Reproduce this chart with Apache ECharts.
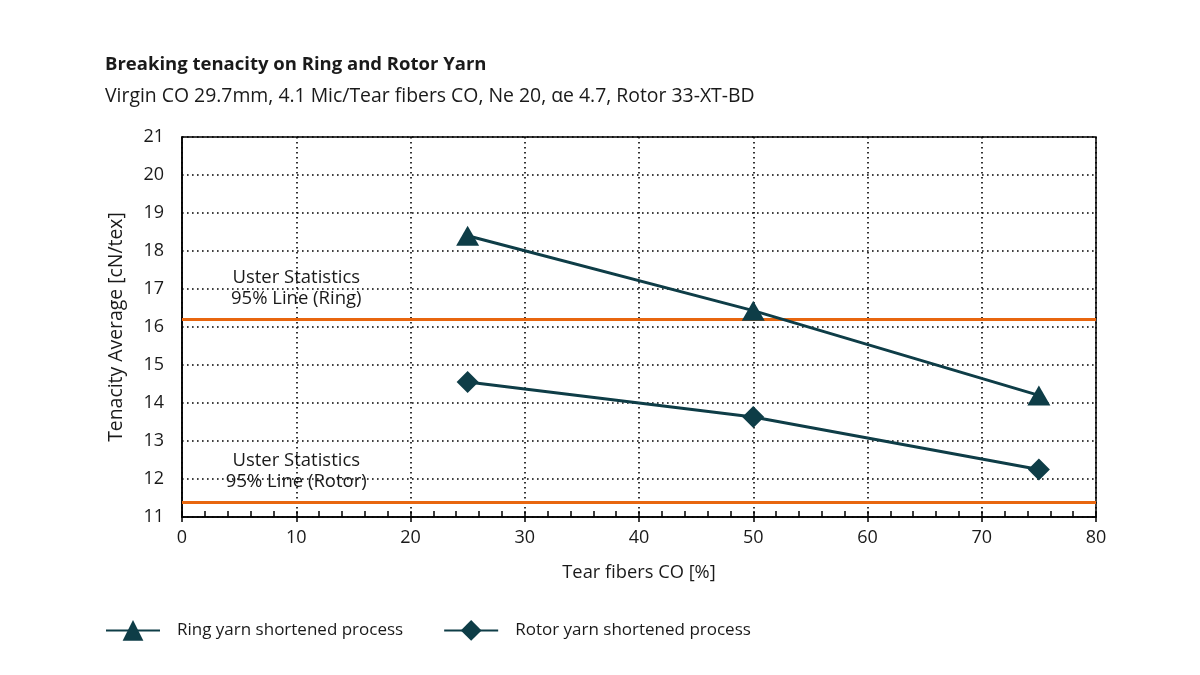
<!DOCTYPE html>
<html>
<head>
<meta charset="utf-8">
<script src="https://cdn.jsdelivr.net/npm/echarts@6/dist/echarts.min.js"></script>
<style>html,body{margin:0;padding:0;background:#fff}#c{width:1200px;height:675px}</style>
</head>
<body>
<div id="c"></div>
<script>
const titleText = 'Breaking tenacity on Ring and Rotor Yarn';
const subtitleText = 'Virgin CO 29.7mm, 4.1 Mic/Tear fibers CO, Ne 20, \u03b1e 4.7, Rotor 33-XT-BD';
const tearFibers = [25, 50, 75];
const ringValues = [18.4, 16.43, 14.2];
const rotorValues = [14.55, 13.63, 12.25];
const usterRing = 16.2;
const usterRotor = 11.4;
const usterRingLabel = 'Uster Statistics\n95% Line (Ring)';
const usterRotorLabel = 'Uster Statistics\n95% Line (Rotor)';
const usterLabelX = 10;
const seriesNames = ['Ring yarn shortened process', 'Rotor yarn shortened process'];

const FONT = 'Open Sans';
const DARK = '#0e3d47';
const ORANGE = '#e8660f';
const TXT = '#1a1a1a';

const chart = echarts.init(document.getElementById('c'), null, {renderer: 'canvas'});
const dotted = {type: [1.6, 3.4], color: '#000', width: 1.6};
const labelStyle = {fontFamily: FONT, fontSize: 18.5, color: TXT, lineHeight: 21};

chart.setOption({
  backgroundColor: '#fff',
  animation: false,
  title: {
    text: titleText,
    subtext: subtitleText,
    left: 100,
    top: 50,
    itemGap: 13,
    textStyle: {fontFamily: FONT, fontSize: 18.5, fontWeight: 'bold', color: TXT},
    subtextStyle: {fontFamily: FONT, fontSize: 19.4, color: TXT}
  },
  grid: {left: 182, right: 104, top: 137, bottom: 158, show: true, borderColor: '#000', borderWidth: 1.5, backgroundColor: 'transparent'},
  legend: {
    left: 100, top: 615,
    itemWidth: 54, itemHeight: 26, itemGap: 40,
    textStyle: {fontFamily: FONT, fontSize: 17, color: TXT, padding: [0, 0, 0, 12]},
    data: seriesNames
  },
  xAxis: [{
    type: 'value', min: 0, max: 80, interval: 10,
    name: 'Tear fibers CO [%]', nameLocation: 'middle', nameGap: 47,
    nameTextStyle: {fontFamily: FONT, fontSize: 18.3, color: TXT},
    axisLine: {show: true, lineStyle: {color: '#000', width: 1.5}},
    axisTick: {show: true, length: 5, lineStyle: {color: '#000', width: 1.5}},
    axisLabel: {fontFamily: FONT, fontSize: 18, color: TXT, margin: 12},
    splitLine: {show: true, lineStyle: dotted}
  }, {
    type: 'value', min: 0, max: 80, interval: 2, position: 'bottom',
    axisLine: {show: false},
    axisTick: {show: true, inside: true, length: 6, lineStyle: {color: '#000', width: 1.5}},
    axisLabel: {show: false},
    splitLine: {show: false}
  }],
  yAxis: {
    type: 'value', min: 11, max: 21, interval: 1,
    name: 'Tenacity Average [cN/tex]', nameLocation: 'middle', nameGap: 56,
    nameTextStyle: {fontFamily: FONT, fontSize: 19.4, color: TXT},
    axisLine: {show: true, lineStyle: {color: '#000', width: 1.5}},
    axisTick: {show: false},
    axisLabel: {fontFamily: FONT, fontSize: 18, color: TXT, margin: 18},
    splitLine: {show: true, lineStyle: dotted}
  },
  series: [{
    name: seriesNames[0], type: 'line',
    data: tearFibers.map((x, i) => [x, ringValues[i]]),
    symbol: 'triangle', symbolSize: [23, 20],
    itemStyle: {color: DARK}, lineStyle: {color: DARK, width: 3}, z: 5,
    markLine: {
      silent: true, symbol: 'none', label: {show: false},
      lineStyle: {color: ORANGE, width: 3, type: 'solid'},
      data: [{yAxis: usterRing}, {yAxis: usterRotor}]
    },
    markPoint: {
      silent: true, symbol: 'circle', symbolSize: 0,
      label: Object.assign({show: true, position: 'top', distance: 10, align: 'center'}, labelStyle),
      data: [
        {coord: [usterLabelX, usterRing], label: {formatter: usterRingLabel}},
        {coord: [usterLabelX, usterRotor], label: {formatter: usterRotorLabel}}
      ]
    }
  }, {
    name: seriesNames[1], type: 'line',
    data: tearFibers.map((x, i) => [x, rotorValues[i]]),
    symbol: 'diamond', symbolSize: [22, 22],
    itemStyle: {color: DARK}, lineStyle: {color: DARK, width: 3}, z: 5
  }]
});
</script>
</body>
</html>
